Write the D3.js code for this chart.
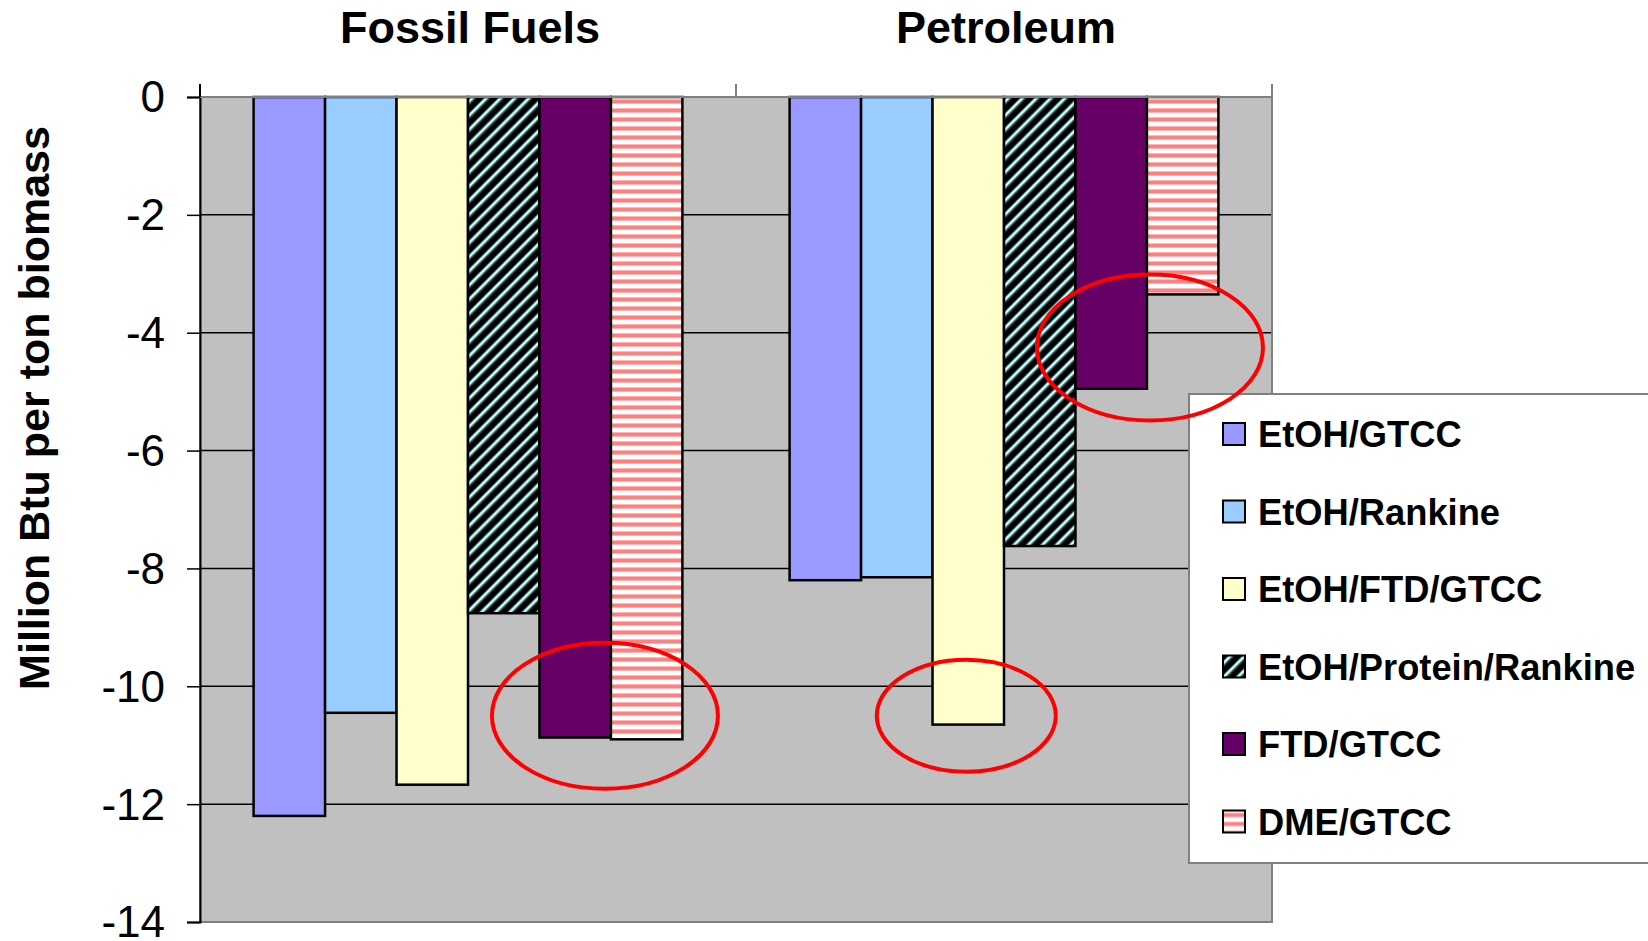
<!DOCTYPE html>
<html>
<head>
<meta charset="utf-8">
<script src="https://cdn.jsdelivr.net/npm/d3@7"></script>
<style>
  html, body { margin: 0; padding: 0; background: #ffffff; }
  svg { display: block; }
  text { font-family: "Liberation Sans", Arial, sans-serif; fill: #000; }
</style>
</head>
<body>
<svg id="chart" width="1648" height="941"></svg>
<script>
// Net fossil / petroleum energy displaced per ton of biomass, by process configuration
const categories = ["Fossil Fuels", "Petroleum"];
const seriesNames = ["EtOH/GTCC", "EtOH/Rankine", "EtOH/FTD/GTCC", "EtOH/Protein/Rankine", "FTD/GTCC", "DME/GTCC"];
const fossilValues = [-12.2, -10.45, -11.67, -8.76, -10.87, -10.9];
const petroleumValues = [-8.2, -8.15, -10.65, -7.62, -4.95, -3.35];
const yTickValues = [0, -2, -4, -6, -8, -10, -12, -14];

// Highlighted bar groups (category, first and last series index, value at ring centre)
const highlights = [
  { category: "Fossil Fuels", from: 4, to: 5, value: -10.5 },
  { category: "Petroleum", from: 2, to: 2, value: -10.5 },
  { category: "Petroleum", from: 4, to: 5, value: -4.25 }
];

const valuesByCategory = { "Fossil Fuels": fossilValues, "Petroleum": petroleumValues };

const svg = d3.select("#chart");
const plot = { left: 200, right: 1272, top: 97, bottom: 922 };

const x0 = d3.scaleBand().domain(categories).range([plot.left, plot.right]).paddingInner(0).paddingOuter(0);
const x1 = d3.scaleBand().domain(d3.range(seriesNames.length)).range([0, x0.bandwidth()]).paddingInner(0).paddingOuter(0.75);
const y = d3.scaleLinear().domain([-14, 0]).range([plot.bottom, plot.top]);

// Fill patterns
const defs = svg.append("defs");
const hatch = defs.append("pattern")
  .attr("id", "hatch").attr("patternUnits", "userSpaceOnUse")
  .attr("width", 10).attr("height", 10)
  .attr("patternTransform", "rotate(45)");
hatch.append("rect").attr("width", 10).attr("height", 10).attr("fill", "#000");
hatch.append("rect").attr("x", 0).attr("width", 1).attr("height", 10).attr("fill", "#5a8c8c");
hatch.append("rect").attr("x", 1).attr("width", 2.4).attr("height", 10).attr("fill", "#ccffff");
hatch.append("rect").attr("x", 3.4).attr("width", 1).attr("height", 10).attr("fill", "#5a8c8c");

const stripes = defs.append("pattern")
  .attr("id", "stripes").attr("patternUnits", "userSpaceOnUse")
  .attr("width", 10).attr("height", 9);
stripes.append("rect").attr("width", 10).attr("height", 9).attr("fill", "#fff");
stripes.append("rect").attr("y", 0).attr("width", 10).attr("height", 1).attr("fill", "#ffb8b8");
stripes.append("rect").attr("y", 1).attr("width", 10).attr("height", 3).attr("fill", "#ff8080");
stripes.append("rect").attr("y", 4).attr("width", 10).attr("height", 1).attr("fill", "#ffb8b8");

const fills = ["#9999ff", "#99ccff", "#ffffcc", "url(#hatch)", "#660066", "url(#stripes)"];

// Plot area background
svg.append("rect")
  .attr("x", plot.left).attr("y", plot.top)
  .attr("width", plot.right - plot.left).attr("height", plot.bottom - plot.top)
  .attr("fill", "#c0c0c0");

// Horizontal gridlines
svg.append("g").selectAll("line")
  .data(yTickValues.filter(v => v !== 0 && v !== -14))
  .join("line")
  .attr("x1", plot.left).attr("x2", plot.right)
  .attr("y1", d => y(d)).attr("y2", d => y(d))
  .attr("stroke", "#000").attr("stroke-width", 1.5);

// Plot area border
svg.append("rect")
  .attr("x", plot.left).attr("y", plot.top)
  .attr("width", plot.right - plot.left).attr("height", plot.bottom - plot.top)
  .attr("fill", "none").attr("stroke", "#808080").attr("stroke-width", 2);

// Bars
const groups = svg.append("g").selectAll("g")
  .data(categories)
  .join("g")
  .attr("transform", d => `translate(${x0(d)},0)`);

groups.selectAll("rect")
  .data(cat => valuesByCategory[cat].map((v, i) => ({ v, i })))
  .join("rect")
  .attr("x", d => x1(d.i))
  .attr("y", d => y(Math.max(0, d.v)))
  .attr("width", x1.bandwidth())
  .attr("height", d => Math.abs(y(d.v) - y(0)))
  .attr("fill", d => fills[d.i])
  .attr("stroke", "#000").attr("stroke-width", 2.5);

// Value axis
const yAxis = d3.axisLeft(y).tickValues(yTickValues).tickSize(13).tickPadding(22)
  .tickFormat(d => d === 0 ? "0" : "-" + Math.abs(d));
const yAxisG = svg.append("g").attr("transform", `translate(${plot.left},0)`).call(yAxis);
yAxisG.select(".domain").attr("stroke", "#000").attr("stroke-width", 2);
yAxisG.selectAll(".tick line").attr("stroke", "#000").attr("stroke-width", 1.5);
yAxisG.selectAll(".tick text")
  .attr("font-size", 44).attr("fill", "#000")
  .attr("font-family", "'Liberation Sans', Arial, sans-serif")
  .attr("dy", "0.34em");

// Category axis along the zero line, ticks pointing up
const catEdges = categories.map(c => x0(c)).concat([plot.right]);
svg.append("line")
  .attr("x1", plot.left).attr("x2", plot.right)
  .attr("y1", y(0)).attr("y2", y(0))
  .attr("stroke", "#808080").attr("stroke-width", 2);
svg.append("g").selectAll("line")
  .data(catEdges)
  .join("line")
  .attr("x1", d => d).attr("x2", d => d)
  .attr("y1", y(0)).attr("y2", y(0) - 13)
  .attr("stroke", (d, i) => i === 0 ? "#000" : "#808080").attr("stroke-width", 2);

// Category titles
svg.append("g").selectAll("text")
  .data(categories)
  .join("text")
  .attr("x", d => x0(d) + x0.bandwidth() / 2 + 2)
  .attr("y", 43)
  .attr("text-anchor", "middle")
  .attr("font-size", 45).attr("font-weight", "bold")
  .text(d => d);

// Value axis title
svg.append("text")
  .attr("transform", "translate(49,408) rotate(-90)")
  .attr("text-anchor", "middle")
  .attr("font-size", 43).attr("font-weight", "bold")
  .text("Million Btu per ton biomass");

// Legend
const legend = svg.append("g").attr("transform", "translate(1189,394)");
legend.append("rect")
  .attr("x", 0).attr("y", 0).attr("width", 520).attr("height", 469)
  .attr("fill", "#fff").attr("stroke", "#808080").attr("stroke-width", 2);
const items = legend.selectAll("g.item")
  .data(seriesNames)
  .join("g").attr("class", "item")
  .attr("transform", (d, i) => `translate(0,${40 + i * 77.5})`);
items.append("rect")
  .attr("x", 34).attr("y", -11).attr("width", 22).attr("height", 22)
  .attr("fill", (d, i) => fills[i])
  .attr("stroke", "#000").attr("stroke-width", 2);
items.append("text")
  .attr("x", 69).attr("y", 13)
  .attr("font-size", 36.3).attr("font-weight", "bold")
  .text(d => d);

// Red rings around highlighted bars
const ringSize = [
  { rx: 113, ry: 73, dx: -6 },
  { rx: 89.5, ry: 56, dx: -2 },
  { rx: 113, ry: 73, dx: 3 }
];
svg.append("g").selectAll("ellipse")
  .data(highlights)
  .join("ellipse")
  .attr("cx", (d, i) => x0(d.category) + (x1(d.from) + x1(d.to) + x1.bandwidth()) / 2 + ringSize[i].dx)
  .attr("cy", d => y(d.value))
  .attr("rx", (d, i) => ringSize[i].rx)
  .attr("ry", (d, i) => ringSize[i].ry)
  .attr("fill", "none").attr("stroke", "#ff0000").attr("stroke-width", 4);
</script>
</body>
</html>
